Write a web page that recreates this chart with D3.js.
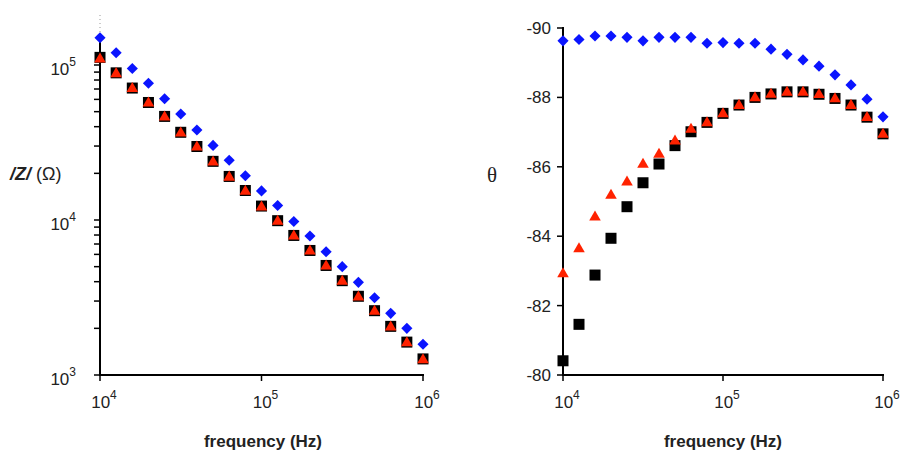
<!DOCTYPE html>
<html>
<head>
<meta charset="utf-8">
<script src="https://cdn.jsdelivr.net/npm/d3@7"></script>
<style>
  body { margin: 0; background: #fff; }
  text { font-family: "Liberation Sans", Arial, sans-serif; fill: #222; }
</style>
</head>
<body>
<svg id="chart" width="906" height="453"></svg>
<script>
// frequency points, 10 per decade from 1e4 to 1e6
const freqExp = [4.0, 4.1, 4.2, 4.3, 4.4, 4.5, 4.6, 4.7, 4.8, 4.9, 5.0,
                 5.1, 5.2, 5.3, 5.4, 5.5, 5.6, 5.7, 5.8, 5.9, 6.0];

// |Z| in ohm
const zBlue = [1.50e5, 1.20e5, 9.5e4, 7.62e4, 6.06e4, 4.83e4, 3.81e4, 3.03e4, 2.43e4, 1.93e4, 1.54e4,
               1.24e4, 9.78e3, 7.88e3, 6.24e3, 5.00e3, 3.96e3, 3.15e3, 2.50e3, 2.00e3, 1.58e3];
const zRed = [1.10e5, 8.84e4, 7.08e4, 5.71e4, 4.64e4, 3.66e4, 2.97e4, 2.38e4, 1.90e4, 1.54e4, 1.22e4,
              9.86e3, 7.92e3, 6.34e3, 5.07e3, 4.04e3, 3.20e3, 2.59e3, 2.05e3, 1.62e3, 1.26e3];
const zBlack = [1.12e5, 8.9e4, 7.1e4, 5.73e4, 4.66e4, 3.68e4, 2.98e4, 2.39e4, 1.91e4, 1.55e4, 1.23e4,
                9.9e3, 7.95e3, 6.36e3, 5.09e3, 4.06e3, 3.22e3, 2.60e3, 2.06e3, 1.63e3, 1.27e3];

// phase angle in degrees
const thBlue = [-89.63, -89.67, -89.77, -89.77, -89.73, -89.63, -89.73, -89.73, -89.73, -89.56, -89.58,
                -89.56, -89.56, -89.39, -89.24, -89.08, -88.90, -88.65, -88.36, -87.95, -87.44];
const thRed = [-82.93, -83.65, -84.56, -85.19, -85.57, -86.08, -86.37, -86.75, -87.09, -87.28, -87.54,
               -87.78, -88.00, -88.10, -88.16, -88.16, -88.09, -87.97, -87.78, -87.43, -86.95];
const thBlack = [-80.41, -81.46, -82.88, -83.94, -84.85, -85.54, -86.08, -86.61, -87.01, -87.28, -87.54,
                 -87.78, -88.00, -88.10, -88.16, -88.16, -88.09, -87.97, -87.78, -87.43, -86.95];

const xTickExp = [4, 5, 6];
const zTickExp = [3, 4, 5];
const thTicks = [-90, -88, -86, -84, -82, -80];

const svg = d3.select("#chart");
const freq = freqExp.map(e => Math.pow(10, e));

function supLabel(g, x, y, base, exp, anchor) {
    const t = g.append("text")
        .attr("x", x).attr("y", y)
        .attr("text-anchor", anchor)
        .style("font-size", "17px");
    t.append("tspan").text(base);
    t.append("tspan").attr("dy", -9).style("font-size", "12px").text(exp);
}

function drawMarkers(g, xs, ys, xScale, yScale, kind, color) {
    const pts = xs.map((x, i) => [xScale(x), yScale(ys[i])]);
    if (kind === "square") {
        g.selectAll(null).data(pts).enter().append("rect")
            .attr("x", d => d[0] - 5.5).attr("y", d => d[1] - 5.5)
            .attr("width", 11).attr("height", 11)
            .attr("fill", color);
    } else {
        const sym = kind === "diamond"
            ? d3.symbol().type(d3.symbolSquare).size(62)
            : d3.symbol().type(d3.symbolTriangle).size(58);
        g.selectAll(null).data(pts).enter().append("path")
            .attr("d", sym)
            .attr("transform", d => kind === "diamond"
                ? `translate(${d[0]},${d[1]}) rotate(45)`
                : `translate(${d[0]},${d[1] + 0.5})`)
            .attr("fill", color);
    }
}

// ---- left panel: |Z| vs frequency ----
const xL = d3.scaleLog().domain([1e4, 1e6]).range([100, 423]);
const yL = d3.scaleLog().domain([1e3, 1e5]).range([375, 65]);
const gL = svg.append("g");

// y axis with minor ticks
gL.append("line").attr("x1", 100).attr("x2", 100).attr("y1", 376).attr("y2", 36)
    .attr("stroke", "#000").attr("stroke-width", 2);
gL.append("line").attr("x1", 100).attr("x2", 100).attr("y1", 36).attr("y2", 12)
    .attr("stroke", "#999").attr("stroke-width", 1).attr("stroke-dasharray", "1,3");
const minor = [];
for (let d = 3; d <= 5; d++) {
    for (let m = 1; m <= 9; m++) {
        const v = m * Math.pow(10, d);
        if (v <= 1.5e5) minor.push(v);
    }
}
gL.selectAll(null).data(minor).enter().append("line")
    .attr("x1", 94).attr("x2", 100)
    .attr("y1", d => yL(d)).attr("y2", d => yL(d))
    .attr("stroke", "#000").attr("stroke-width", 1.5);
zTickExp.forEach(e => supLabel(gL, 76, yL(Math.pow(10, e)) + 10, "10", e, "end"));

// x axis
gL.append("line").attr("x1", 99).attr("x2", 424).attr("y1", 375).attr("y2", 375)
    .attr("stroke", "#000").attr("stroke-width", 2);
gL.selectAll(null).data(xTickExp).enter().append("line")
    .attr("x1", d => xL(Math.pow(10, d))).attr("x2", d => xL(Math.pow(10, d)))
    .attr("y1", 375).attr("y2", 381)
    .attr("stroke", "#000").attr("stroke-width", 1.5);
xTickExp.forEach(e => supLabel(gL, xL(Math.pow(10, e)) + 4, 408, "10", e, "middle"));

drawMarkers(gL, freq, zBlack, xL, yL, "square", "#000");
drawMarkers(gL, freq, zRed, xL, yL, "triangle", "#ff2200");
drawMarkers(gL, freq, zBlue, xL, yL, "diamond", "#0a14ff");

gL.append("text").attr("x", 263).attr("y", 447).attr("text-anchor", "middle")
    .style("font-size", "17px").style("font-weight", "bold").text("frequency (Hz)");
const zl = gL.append("text").attr("x", 10).attr("y", 180).style("font-size", "18px");
zl.append("tspan").style("font-weight", "bold").style("font-style", "italic").text("/Z/");
zl.append("tspan").text(" (Ω)");

// ---- right panel: theta vs frequency ----
const xR = d3.scaleLog().domain([1e4, 1e6]).range([563, 883]);
const yR = d3.scaleLinear().domain([-80, -90]).range([375, 28]);
const gR = svg.append("g");

gR.append("line").attr("x1", 563).attr("x2", 563).attr("y1", 376).attr("y2", 27)
    .attr("stroke", "#000").attr("stroke-width", 2);
gR.selectAll(null).data(thTicks).enter().append("line")
    .attr("x1", 557).attr("x2", 563)
    .attr("y1", d => yR(d)).attr("y2", d => yR(d))
    .attr("stroke", "#000").attr("stroke-width", 1.5);
gR.selectAll(null).data(thTicks).enter().append("text")
    .attr("x", 551).attr("y", d => yR(d) + 6)
    .attr("text-anchor", "end").style("font-size", "17px")
    .text(d => d);

gR.append("line").attr("x1", 562).attr("x2", 884).attr("y1", 375).attr("y2", 375)
    .attr("stroke", "#000").attr("stroke-width", 2);
gR.selectAll(null).data(xTickExp).enter().append("line")
    .attr("x1", d => xR(Math.pow(10, d))).attr("x2", d => xR(Math.pow(10, d)))
    .attr("y1", 375).attr("y2", 381)
    .attr("stroke", "#000").attr("stroke-width", 1.5);
xTickExp.forEach(e => supLabel(gR, xR(Math.pow(10, e)) + 4, 408, "10", e, "middle"));

drawMarkers(gR, freq, thBlack, xR, yR, "square", "#000");
drawMarkers(gR, freq, thRed, xR, yR, "triangle", "#ff2200");
drawMarkers(gR, freq, thBlue, xR, yR, "diamond", "#0a14ff");

gR.append("text").attr("x", 723).attr("y", 447).attr("text-anchor", "middle")
    .style("font-size", "17px").style("font-weight", "bold").text("frequency (Hz)");
gR.append("text").attr("x", 492).attr("y", 182).attr("text-anchor", "middle")
    .style("font-family", "'Liberation Serif', 'DejaVu Serif', serif")
    .style("font-size", "21px").text("θ");
</script>
</body>
</html>
